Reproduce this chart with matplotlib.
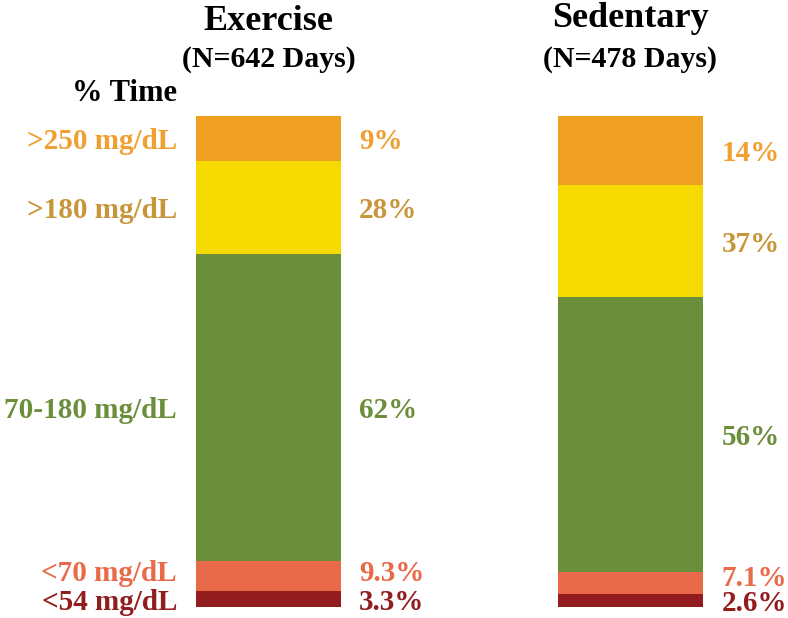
import numpy as np
import matplotlib.pyplot as plt

# ============================================================
# DATA
# ============================================================
groups = ['Exercise', 'Sedentary']
group_n = ['(N=642 Days)', '(N=478 Days)']
ranges = ['<54 mg/dL', '<70 mg/dL', '70-180 mg/dL', '>180 mg/dL', '>250 mg/dL']

# reported percentages (cumulative for <70 and >180, as printed on chart)
below54 = [3.3, 2.6]
below70 = [9.3, 7.1]
in_range = [62, 56]
above180 = [28, 37]
above250 = [9, 14]
pct_labels = [['3.3%', '9.3%', '62%', '28%', '9%'],
              ['2.6%', '7.1%', '56%', '37%', '14%']]

# segment heights of the stacked bars, rescaled so each bar fills 100%
seg = np.array([below54,
                np.subtract(below70, below54),
                in_range,
                np.subtract(above180, above250),
                above250], dtype=float)
seg = seg / seg.sum(axis=0) * 100

bar_colors = ['#931C1F', '#E96A48', '#6B8E3A', '#F5DA00', '#EFA020']
text_colors = ['#931C1F', '#E96A48', '#6B8E3A', '#C8963A', '#F0A030']

# vertical nudges (pixels) for the labels; thin bottom ones are spread apart
nudge = [[-4, 2, -3, -3, -3], [-3, 5, -3, -3, -3]]

# ============================================================
# PLOT
# ============================================================
plt.rcParams['font.family'] = ['Liberation Serif', 'DejaVu Serif']
plt.rcParams['font.weight'] = 'bold'

fig = plt.figure(figsize=(7.88, 6.18), dpi=100)
ax = fig.add_axes([0, 11 / 618, 1, 491 / 618])
ax.set_xlim(-0.742, 1.436)
ax.set_ylim(0, 100)
ax.axis('off')

x = np.arange(len(groups))
bottom = np.zeros(len(groups))
centers = []
for k in range(len(ranges)):
    ax.bar(x, seg[k], 0.4, bottom=bottom, color=bar_colors[k], linewidth=0)
    centers.append(bottom + seg[k] / 2)
    bottom = bottom + seg[k]

# left labels (range names) next to the Exercise bar
for k, name in enumerate(ranges):
    ax.annotate(name, (-0.253, centers[k][0]), xytext=(0, nudge[0][k]),
                textcoords='offset pixels', ha='right', va='center',
                fontsize=21, color=text_colors[k], annotation_clip=False)

# right labels (percentages)
label_x = [0.250, 1.253]
for g in range(len(groups)):
    for k in range(len(ranges)):
        ax.annotate(pct_labels[g][k], (label_x[g], centers[k][g]),
                    xytext=(0, nudge[g][k]), textcoords='offset pixels',
                    ha='left', va='center', fontsize=21,
                    color=text_colors[k], annotation_clip=False)

# titles
title_y = [117.5, 118.1]
for g in range(len(groups)):
    ax.text(x[g], title_y[g], groups[g], ha='center', va='baseline',
            fontsize=26, color='black', clip_on=False)
    ax.text(x[g], 110.0, group_n[g], ha='center', va='baseline',
            fontsize=21.5, color='black', clip_on=False)

ax.text(-0.253, 103.1, '% Time', ha='right', va='baseline',
        fontsize=22, color='black', clip_on=False)

plt.savefig('out.png', dpi=100)
